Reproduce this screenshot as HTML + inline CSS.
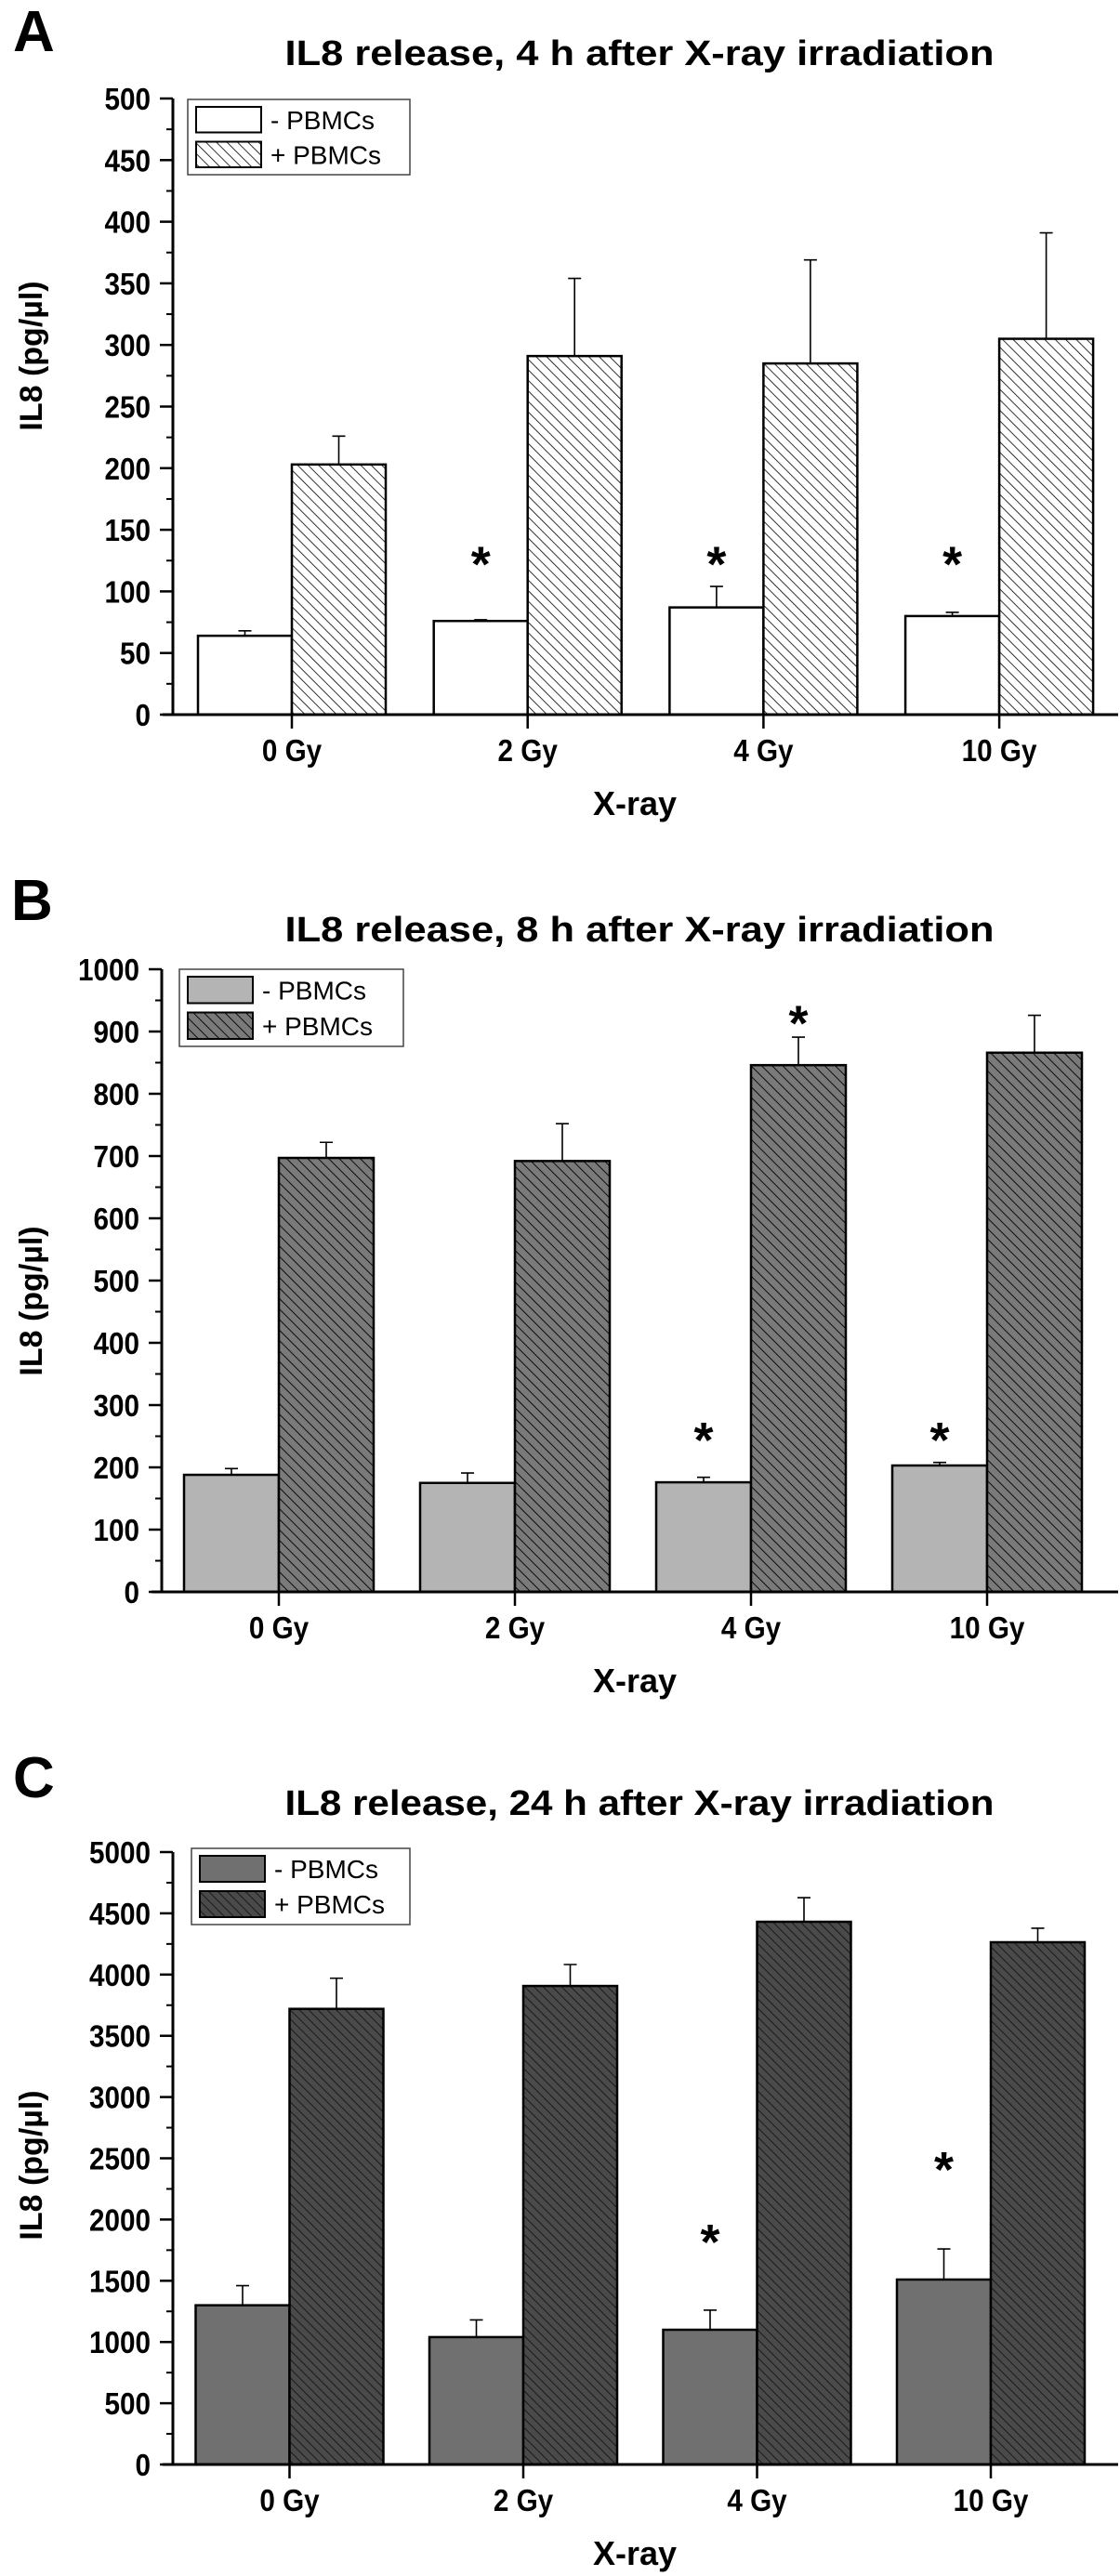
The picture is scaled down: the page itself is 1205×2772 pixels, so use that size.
<!DOCTYPE html>
<html><head><meta charset="utf-8"><style>
html,body{margin:0;padding:0;background:#fff}
svg{display:block}
text{font-family:"Liberation Sans",Arial,sans-serif;fill:#000}
</style></head><body>
<svg id="fig" width="1205" height="2772" viewBox="0 0 1205 2772" xmlns="http://www.w3.org/2000/svg">
<defs>
<pattern id="hA" patternUnits="userSpaceOnUse" width="8" height="8" patternTransform="rotate(-45)"><rect width="8" height="8" fill="#fff"/><line x1="0" y1="0" x2="0" y2="8" stroke="#000" stroke-width="1.6"/></pattern>
<pattern id="hB" patternUnits="userSpaceOnUse" width="8" height="8" patternTransform="rotate(-45)"><rect width="8" height="8" fill="#7a7a7a"/><line x1="0" y1="0" x2="0" y2="8" stroke="#000" stroke-width="1.8"/></pattern>
<pattern id="hC" patternUnits="userSpaceOnUse" width="7" height="7" patternTransform="rotate(-45)"><rect width="7" height="7" fill="#4a4a4a"/><line x1="0" y1="0" x2="0" y2="7" stroke="#1a1a1a" stroke-width="2"/></pattern>
</defs>
</svg>
<script>
const categories = ["0 Gy","2 Gy","4 Gy","10 Gy"];
// Panel A (4 h)
const aMinus = [64, 76, 87, 80];
const aMinusErr = [68, 77, 104, 83];
const aPlus = [203, 291, 285, 305];
const aPlusErr = [226, 354, 369, 391];
const aTicks = [0,50,100,150,200,250,300,350,400,450,500];
const aStarsMinus = [null, 128, 128, 128];
const aStarsPlus = [null, null, null, null];
// Panel B (8 h)
const bMinus = [188, 175, 176, 203];
const bMinusErr = [198, 191, 184, 208];
const bPlus = [697, 692, 846, 866];
const bPlusErr = [722, 752, 891, 926];
const bTicks = [0,100,200,300,400,500,600,700,800,900,1000];
const bStarsMinus = [null, null, 255, 255];
const bStarsPlus = [null, null, 925, null];
// Panel C (24 h)
const cMinus = [1300, 1040, 1100, 1510];
const cMinusErr = [1460, 1180, 1260, 1760];
const cPlus = [3720, 3907, 4431, 4264];
const cPlusErr = [3970, 4082, 4628, 4378];
const cTicks = [0,500,1000,1500,2000,2500,3000,3500,4000,4500,5000];
const cStarsMinus = [null, null, 1874, 2466];
const cStarsPlus = [null, null, null, null];

const svg = document.getElementById('fig');
const NS = 'http://www.w3.org/2000/svg';
function mk(tag, attrs, parent){const e=document.createElementNS(NS,tag);for(const k in attrs)e.setAttribute(k,attrs[k]);(parent||svg).appendChild(e);return e;}

function panel(cfg){
  const g = mk('g',{});
  
  
  const max = cfg.ticks[cfg.ticks.length-1];
  const y = v => cfg.y0 - (v/max)*(cfg.y0-cfg.yTop);
  const xc = i => cfg.firstTick + i*cfg.spacing;
  const bw = cfg.bw;
  const L = mk('text',{x:cfg.letterX,y:cfg.letterY,'font-size':62,'font-weight':'bold'},g); L.textContent=cfg.id.toUpperCase();
  
  
  const T = mk('text',{x:688,y:cfg.titleY,'font-size':38,'font-weight':'bold','text-anchor':'middle',textLength:763,lengthAdjust:'spacingAndGlyphs'},g); T.textContent=cfg.title;
  
  
  for(let i=0;i<categories.length;i++){
    const c = xc(i);
    const r1 = mk('rect',{x:c-bw,y:y(cfg.minus[i]),width:bw,height:cfg.y0-y(cfg.minus[i]),fill:cfg.minusFill,stroke:'#000','stroke-width':2.5},g);
    
    
    const r2 = mk('rect',{x:c,y:y(cfg.plus[i]),width:bw,height:cfg.y0-y(cfg.plus[i]),fill:cfg.plusFill,stroke:'#000','stroke-width':2.5},g);
    
    
    [[c-bw/2,cfg.minus[i],cfg.minusErr[i]],[c+bw/2,cfg.plus[i],cfg.plusErr[i]]].forEach(([ex,v,e])=>{
      const eb = mk('path',{d:`M${ex},${y(v)}V${y(e)}M${ex-7},${y(e)}H${ex+7}`,stroke:'#000','stroke-width':1.6,fill:'none'},g);
      
      
    });
    [[c-bw/2,cfg.starsMinus[i]],[c+bw/2,cfg.starsPlus[i]]].forEach(([sx,v])=>{
      if(v==null) return;
      const s = mk('text',{x:sx,y:y(v)+26,'font-size':54,'font-weight':'bold','text-anchor':'middle'},g); s.textContent='*';
      
      
    });
    const xt = mk('line',{x1:c,x2:c,y1:cfg.y0,y2:cfg.y0+15,stroke:'#000','stroke-width':2.5},g);
    
    
    const xl = mk('text',{x:0,y:0,'font-size':33,'font-weight':'bold','text-anchor':'middle',transform:`translate(${c},${cfg.y0+50}) scale(0.9,1)`},g); xl.textContent=categories[i];
    
    
  }
  const ya = mk('line',{x1:cfg.ax,x2:cfg.ax,y1:cfg.yTop,y2:cfg.y0,stroke:'#000','stroke-width':3},g);
  
  
  const xa = mk('line',{x1:cfg.ax-11,x2:1203,y1:cfg.y0,y2:cfg.y0,stroke:'#000','stroke-width':3},g);
  
  
  cfg.ticks.forEach((t,k)=>{
    const tk = mk('line',{x1:cfg.ax-14,x2:cfg.ax,y1:y(t),y2:y(t),stroke:'#000','stroke-width':2.5},g);
    
    
    const tl = mk('text',{x:0,y:0,'font-size':33,'font-weight':'bold','text-anchor':'end',transform:`translate(${cfg.ax-24},${y(t)+12}) scale(0.9,1)`},g); tl.textContent=t;
    
    
    if(k<cfg.ticks.length-1){
      const mv=(t+cfg.ticks[k+1])/2;
      const mt = mk('line',{x1:cfg.ax-7,x2:cfg.ax,y1:y(mv),y2:y(mv),stroke:'#000','stroke-width':2},g);
      
      
    }
  });
  const yl = mk('text',{x:0,y:0,'font-size':34,'font-weight':'bold','text-anchor':'middle',transform:`translate(${cfg.ylx},${cfg.yly}) rotate(-90)`},g); yl.textContent='IL8 (pg/µl)';
  
  
  const xl2 = mk('text',{x:683,y:cfg.y0+108,'font-size':36,'font-weight':'bold','text-anchor':'middle'},g); xl2.textContent='X-ray';
  
  
  const lg = mk('g',{},g);
  
  
  const [lx,ly,lw,lh]=cfg.legend;
  mk('rect',{x:lx,y:ly,width:lw,height:lh,fill:'#fff',stroke:'#444','stroke-width':1.5},lg);
  const sh = (lh-26)/2;
  [[cfg.minusFill,'- PBMCs'],[cfg.plusFill,'+ PBMCs']].forEach(([f,t],k)=>{
    const sy = ly+8+k*(sh+10);
    const sw = mk('rect',{x:lx+9,y:sy,width:70,height:sh,fill:f,stroke:'#000','stroke-width':2},lg);
    
    
    const tx = mk('text',{x:lx+89,y:sy+sh/2+10,'font-size':28},lg); tx.textContent=t;
    
    
  });
}

panel({id:'a',title:'IL8 release, 4 h after X-ray irradiation',letterX:14,letterY:55,titleY:70,
  ax:186,yTop:106,y0:769,firstTick:314,spacing:253.7,bw:101,ticks:aTicks,
  minus:aMinus,minusErr:aMinusErr,plus:aPlus,plusErr:aPlusErr,starsMinus:aStarsMinus,starsPlus:aStarsPlus,
  minusFill:'#fff',plusFill:'url(#hA)',legend:[202,107,239,81],ylx:45,yly:383});
panel({id:'b',title:'IL8 release, 8 h after X-ray irradiation',letterX:12,letterY:990,titleY:1013,
  ax:174,yTop:1043,y0:1713,firstTick:300,spacing:254,bw:102,ticks:bTicks,
  minus:bMinus,minusErr:bMinusErr,plus:bPlus,plusErr:bPlusErr,starsMinus:bStarsMinus,starsPlus:bStarsPlus,
  minusFill:'#b4b4b4',plusFill:'url(#hB)',legend:[193,1043,241,83],ylx:45,yly:1400});
panel({id:'c',title:'IL8 release, 24 h after X-ray irradiation',letterX:14,letterY:1934,titleY:1953,
  ax:186,yTop:1993,y0:2652,firstTick:311.5,spacing:251.5,bw:101,ticks:cTicks,
  minus:cMinus,minusErr:cMinusErr,plus:cPlus,plusErr:cPlusErr,starsMinus:cStarsMinus,starsPlus:cStarsPlus,
  minusFill:'#707070',plusFill:'url(#hC)',legend:[206,1989,235,82],ylx:45,yly:2330});
</script>
</body></html>
